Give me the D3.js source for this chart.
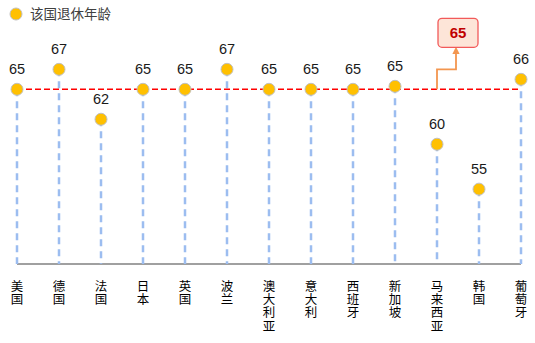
<!DOCTYPE html>
<html><head><meta charset="utf-8">
<script src="https://cdn.jsdelivr.net/npm/d3@7/dist/d3.min.js"></script>
<style>body{margin:0;background:#fff;}svg{display:block;}</style>
</head><body>
<script>
const categories = ["美国","德国","法国","日本","英国","波兰","澳大利亚","意大利","西班牙","新加坡","马来西亚","韩国","葡萄牙"];
const values = [65, 67, 62, 65, 65, 67, 65, 65, 65, 65.3, 59.5, 55, 66];
const legendLabel = "该国退休年龄";
const referenceValue = 65;
const annotationLabel = "65";

const W = 535, H = 343;
const svg = d3.select("body").append("svg").attr("width", W).attr("height", H);

const x = d3.scalePoint().domain(categories).range([17, 521]);
const y = d3.scaleLinear().domain([47.5, 65]).range([264, 89.3]);
const fmt = d3.format(".0f");

// axis baseline
svg.append("line")
  .attr("x1", x(categories[0])).attr("x2", x(categories[categories.length-1]))
  .attr("y1", y(47.5)).attr("y2", y(47.5))
  .attr("stroke", "#808080").attr("stroke-width", 1.5);

// vertical dashed drop lines
svg.selectAll(".drop").data(categories).enter().append("line")
  .attr("x1", d => x(d)).attr("x2", d => x(d))
  .attr("y1", (d,i) => y(values[i])).attr("y2", y(47.5))
  .attr("stroke", "#9cbdf0").attr("stroke-width", 2.5)
  .attr("stroke-dasharray", "7,5");

// reference red dashed line
svg.append("line")
  .attr("x1", x(categories[0])).attr("x2", x(categories[categories.length-1]))
  .attr("y1", y(referenceValue)).attr("y2", y(referenceValue))
  .attr("stroke", "#ff0000").attr("stroke-width", 1.6)
  .attr("stroke-dasharray", "6,3");

// annotation arrow + box
const ax = x("马来西亚"), bx = (x("马来西亚") + x("韩国")) / 2;
const boxW = 40, boxH = 29, boxTop = 18.3;
svg.append("defs").append("marker")
  .attr("id","arr").attr("viewBox","0 0 10 10").attr("refX",5).attr("refY",5)
  .attr("markerWidth",4).attr("markerHeight",4).attr("orient","auto")
  .append("path").attr("d","M0,0L10,5L0,10Z").attr("fill","#f3964f");
svg.append("path")
  .attr("d", `M${ax},${y(referenceValue)}V${y(67)}H${bx-2}V${boxTop+boxH+3}`)
  .attr("fill","none").attr("stroke","#f3964f").attr("stroke-width",1.8)
  .attr("marker-end","url(#arr)");
svg.append("rect")
  .attr("x", bx - boxW/2).attr("y", boxTop).attr("width", boxW).attr("height", boxH)
  .attr("rx", 4).attr("fill", "#fde5d8").attr("stroke", "#f25a5a").attr("stroke-width", 1.3);
svg.append("text")
  .attr("x", bx).attr("y", boxTop + boxH/2 + 5)
  .attr("text-anchor","middle").attr("font-family","Liberation Sans, Arial, sans-serif")
  .attr("font-size", 15).attr("font-weight","bold").attr("fill","#c00000")
  .text(annotationLabel);

// circles
svg.selectAll(".pt").data(categories).enter().append("circle")
  .attr("cx", d => x(d)).attr("cy", (d,i) => y(values[i]))
  .attr("r", 6).attr("fill", "#ffc000").attr("stroke", "#c0c0c0").attr("stroke-width", 1);

// value labels
svg.selectAll(".vl").data(categories).enter().append("text")
  .attr("x", d => x(d)).attr("y", (d,i) => y(values[i]) - 15)
  .attr("text-anchor","middle").attr("font-family","Liberation Sans, Arial, sans-serif")
  .attr("font-size", 14.5).attr("fill","#1a1a1a")
  .text((d,i) => fmt(values[i]));

// category labels (vertical stacked characters)
const lab = svg.selectAll(".cl").data(categories).enter().append("text")
  .attr("font-family","Noto Sans CJK SC, sans-serif").attr("font-size", 12.5).attr("fill","#000")
  .attr("text-anchor","middle");
lab.each(function(d){
  const t = d3.select(this);
  Array.from(d).forEach((c, k) => {
    t.append("tspan").attr("x", x(d)).attr("y", 291 + k*13.2).text(c);
  });
});

// legend
svg.append("circle").attr("cx", 16).attr("cy", 14).attr("r", 6)
  .attr("fill","#ffc000").attr("stroke","#c0c0c0").attr("stroke-width",1);
svg.append("text").attr("x", 30).attr("y", 19)
  .attr("font-family","Noto Sans CJK SC, sans-serif").attr("font-size", 13.5).attr("fill","#404040")
  .text(legendLabel);
</script>
</body></html>
